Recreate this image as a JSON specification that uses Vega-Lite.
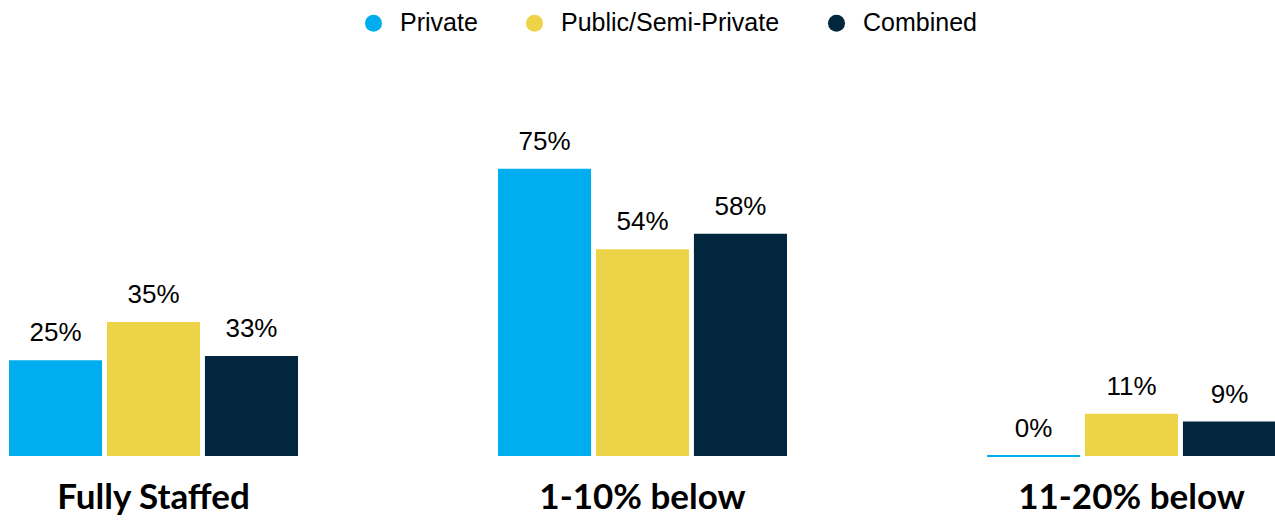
{
  "$schema": "https://vega.github.io/schema/vega-lite/v6.json",
  "width": 1267,
  "height": 383,
  "autosize": "none",
  "padding": {"left": 9, "top": 73, "right": 0, "bottom": 66},
  "background": "white",
  "data": {
    "values": [
      {"category": "Fully Staffed", "series": "Private", "value": 25, "label": "25%"},
      {"category": "Fully Staffed", "series": "Public/Semi-Private", "value": 35, "label": "35%"},
      {"category": "Fully Staffed", "series": "Combined", "value": 26.1, "label": "33%"},
      {"category": "1-10% below", "series": "Private", "value": 75, "label": "75%"},
      {"category": "1-10% below", "series": "Public/Semi-Private", "value": 54, "label": "54%"},
      {"category": "1-10% below", "series": "Combined", "value": 58, "label": "58%"},
      {"category": "11-20% below", "series": "Private", "value": 0, "label": "0%"},
      {"category": "11-20% below", "series": "Public/Semi-Private", "value": 11, "label": "11%"},
      {"category": "11-20% below", "series": "Combined", "value": 9, "label": "9%"}
    ]
  },
  "encoding": {
    "x": {
      "field": "category",
      "type": "nominal",
      "sort": ["Fully Staffed", "1-10% below", "11-20% below"],
      "scale": {"paddingInner": 0.409, "paddingOuter": 0},
      "axis": {
        "title": null,
        "domain": false,
        "ticks": false,
        "labelAngle": 0,
        "labelFont": "Lato",
        "labelFontWeight": "bold",
        "labelFontSize": 35,
        "labelColor": "black",
        "labelLimit": 500,
        "labelPadding": 24
      }
    },
    "xOffset": {
      "field": "series",
      "sort": ["Private", "Public/Semi-Private", "Combined"],
      "scale": {"paddingInner": 0.05, "paddingOuter": 0}
    },
    "y": {
      "field": "value",
      "type": "quantitative",
      "scale": {"domain": [0, 100]},
      "axis": null
    }
  },
  "layer": [
    {
      "mark": {"type": "bar"},
      "encoding": {
        "color": {
          "field": "series",
          "type": "nominal",
          "sort": ["Private", "Public/Semi-Private", "Combined"],
          "scale": {
            "domain": ["Private", "Public/Semi-Private", "Combined"],
            "range": ["#00AEEF", "#ECD348", "#03263F"]
          },
          "legend": {
            "orient": "none",
            "legendX": 352,
            "legendY": -62.5,
            "direction": "horizontal",
            "title": null,
            "symbolType": "circle",
            "symbolSize": 290,
            "symbolStrokeWidth": 0,
            "labelFont": "Liberation Sans",
            "labelFontSize": 25,
            "labelColor": "black",
            "labelLimit": 400,
            "labelOffset": 14,
            "columnPadding": 44
          }
        },
        "stroke": {
          "field": "series",
          "type": "nominal",
          "scale": {
            "domain": ["Private", "Public/Semi-Private", "Combined"],
            "range": ["#00AEEF", "#ECD348", "#03263F"]
          },
          "legend": null
        },
        "strokeWidth": {
          "condition": {"test": "datum.value == 0", "value": 2},
          "value": 0
        }
      }
    },
    {
      "mark": {
        "type": "text",
        "baseline": "alphabetic",
        "dy": -19,
        "font": "Liberation Sans",
        "fontSize": 26,
        "color": "black"
      },
      "encoding": {"text": {"field": "label"}}
    }
  ],
  "config": {"view": {"stroke": null}}
}
